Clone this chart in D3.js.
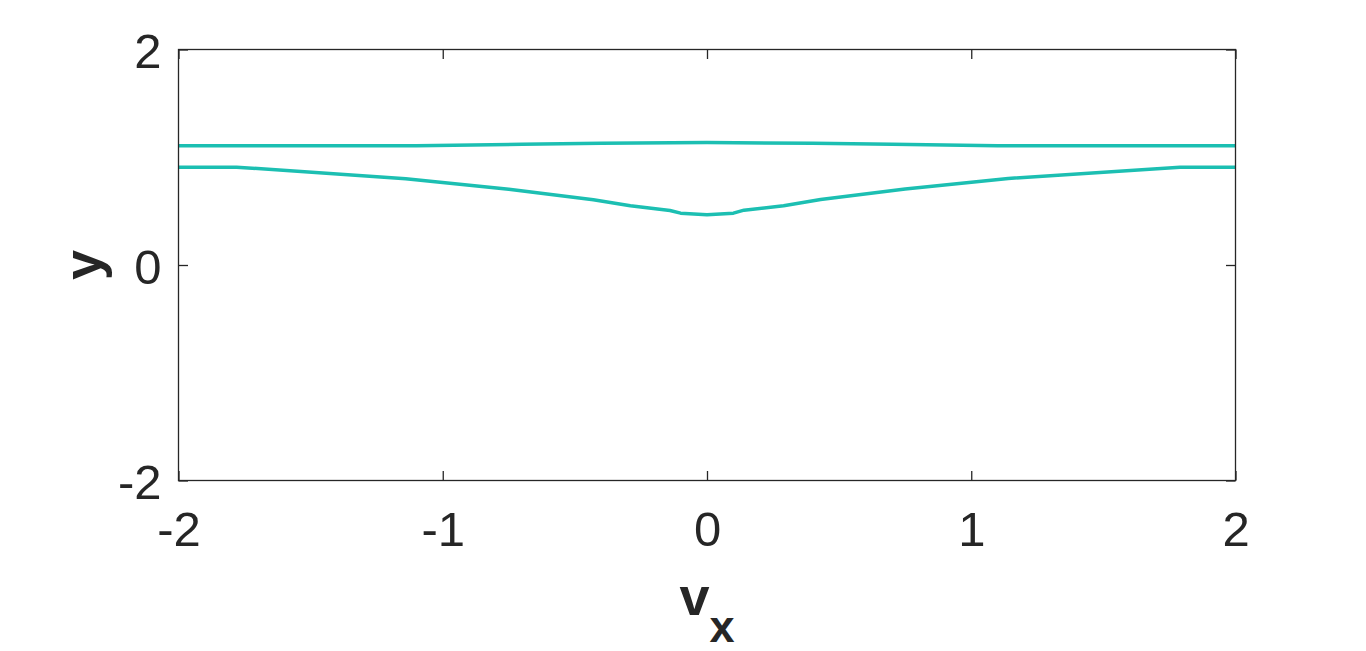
<!DOCTYPE html>
<html>
<head>
<meta charset="utf-8">
<script src="https://cdn.jsdelivr.net/npm/d3@7"></script>
<style>
html,body{margin:0;padding:0;background:#fff;}
svg{display:block;}
text{font-family:"Liberation Sans",Arial,sans-serif;fill:#262626;}
</style>
</head>
<body>
<svg id="chart" width="1366" height="651"></svg>
<script>
// Data
const xTicks = [-2, -1, 0, 1, 2];
const yTicks = [-2, 0, 2];
const upperX = [-2, -1.1, -0.7, -0.4, 0, 0.4, 0.7, 1.1, 2];
const upperY = [1.106, 1.106, 1.12, 1.13, 1.136, 1.13, 1.12, 1.106, 1.106];
const lowerX = [-2, -1.78, -1.14, -0.75, -0.43, -0.29, -0.14, -0.1, 0, 0.1, 0.14, 0.29, 0.43, 0.75, 1.14, 1.79, 2];
const lowerY = [0.908, 0.908, 0.8, 0.704, 0.605, 0.549, 0.506, 0.481, 0.466, 0.481, 0.509, 0.549, 0.608, 0.706, 0.803, 0.908, 0.908];

(function () {
const svg = d3.select("#chart");
const L = 178.5, R = 1235.5, T = 49.5, B = 480.5;
const x = d3.scaleLinear().domain([-2, 2]).range([L, R]);
const y = d3.scaleLinear().domain([-2, 2]).range([B, T]);
const col = "#262626";
const tickLen = 9.5;
const fmt = d => String(d);

// lines
const line = d3.line().x(d => x(d[0])).y(d => y(d[1]));
const curves = [d3.zip(upperX, upperY), d3.zip(lowerX, lowerY)];
svg.append("g").selectAll("path").data(curves).join("path")
  .attr("d", line).attr("fill", "none").attr("stroke", "#1cbfb2")
  .attr("stroke-width", 3.5).attr("stroke-linejoin", "round");

// frame
svg.append("rect").attr("x", L).attr("y", T).attr("width", R - L).attr("height", B - T)
  .attr("fill", "none").attr("stroke", col).attr("stroke-width", 1.3);

// axes with inward ticks
const fs = 49;
const gBottom = svg.append("g").attr("transform", `translate(0,${B})`)
  .call(d3.axisBottom(x).tickValues(xTicks).tickSize(-tickLen).tickPadding(0).tickFormat(fmt));
const gTop = svg.append("g").attr("transform", `translate(0,${T})`)
  .call(d3.axisTop(x).tickValues(xTicks).tickSize(-tickLen).tickFormat(""));
const gLeft = svg.append("g").attr("transform", `translate(${L},0)`)
  .call(d3.axisLeft(y).tickValues(yTicks).tickSize(-tickLen).tickFormat(fmt));
const gRight = svg.append("g").attr("transform", `translate(${R},0)`)
  .call(d3.axisRight(y).tickValues(yTicks).tickSize(-tickLen).tickFormat(""));
[gBottom, gTop, gLeft, gRight].forEach(g => {
  g.select(".domain").remove();
  g.selectAll(".tick line").attr("stroke", col).attr("stroke-width", 1.3);
});
gBottom.selectAll(".tick text").attr("y", null).attr("dy", null)
  .attr("transform", "translate(0,65)")
  .style("font-size", fs + "px").style("font-family", '"Liberation Sans",Arial,sans-serif').attr("fill", col);
gLeft.selectAll(".tick text").attr("x", -17).attr("dy", null)
  .attr("transform", "translate(0,18)")
  .style("font-size", fs + "px").style("font-family", '"Liberation Sans",Arial,sans-serif').attr("fill", col);

// x label
const xl = svg.append("text").attr("x", (L + R) / 2).attr("y", 615)
  .attr("text-anchor", "middle").style("font-size", "54px").style("font-weight", "bold");
xl.append("tspan").text("v");
xl.append("tspan").attr("dy", 27).style("font-size", "45px").text("x");

// y label
svg.append("text").attr("transform", `translate(101,${y(0)}) rotate(-90)`)
  .attr("text-anchor", "middle").style("font-size", "54px").style("font-weight", "bold").text("y");
})();
</script>
</body>
</html>
